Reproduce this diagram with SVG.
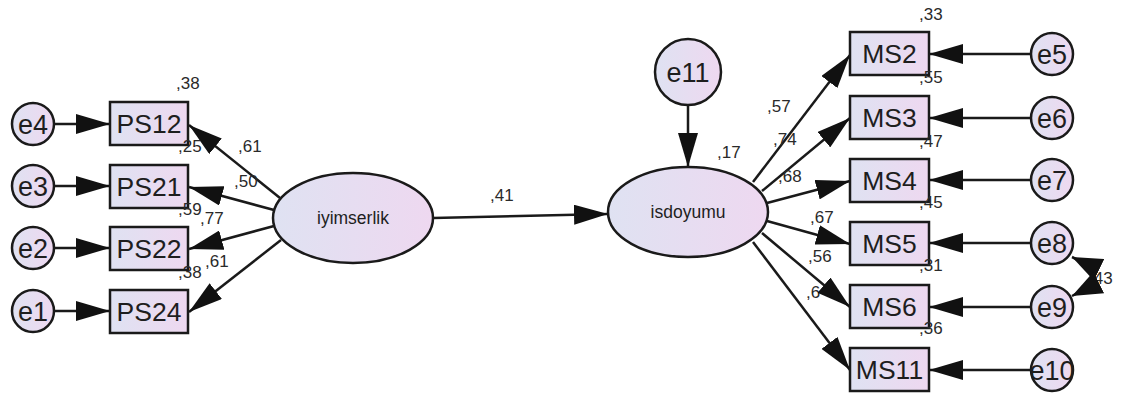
<svg xmlns="http://www.w3.org/2000/svg" width="1123" height="394" viewBox="0 0 1123 394">
<style>
.nd{stroke:#1a1a1a;stroke-width:2.5}
.bx{fill:url(#g)}
.el{fill:url(#g)}
.t{font-family:"Liberation Sans",Arial,sans-serif;fill:#1e1e1e}
.big{font-size:26.5px;text-anchor:middle}
.ev{font-size:27px;text-anchor:middle}
.lv{font-size:17.5px;text-anchor:middle}
.lb{font-size:17px;fill:#2a2a2a}
.cn{stroke:#1a1a1a;stroke-width:2.5;fill:none}
</style>
<defs>
<linearGradient id="g" x1="0" y1="0" x2="1" y2="0">
<stop offset="0" stop-color="#dfe2f2"/>
<stop offset="1" stop-color="#eed8f0"/>
</linearGradient>
<marker id="ah" markerUnits="userSpaceOnUse" markerWidth="34" markerHeight="20" refX="34" refY="10" orient="auto">
<path d="M0,0 L34,10 L0,20 z" fill="#111"/>
</marker>
<marker id="ah2" markerUnits="userSpaceOnUse" markerWidth="30" markerHeight="24" refX="30" refY="12" orient="auto-start-reverse">
<path d="M0,0 L30,12 L0,24 z" fill="#111"/>
</marker>
</defs>
<rect width="1123" height="394" fill="#fff"/>

<g id="labels-under">
<text class="t lb" x="806" y="298">,6</text>
<text class="t lb" x="1089" y="284">,43</text>
</g>

<g id="connectors">
<line class="cn" x1="54" y1="124" x2="110" y2="124" marker-end="url(#ah)"/>
<line class="cn" x1="54" y1="186" x2="110" y2="186" marker-end="url(#ah)"/>
<line class="cn" x1="54" y1="248" x2="110" y2="248" marker-end="url(#ah)"/>
<line class="cn" x1="54" y1="311" x2="110" y2="311" marker-end="url(#ah)"/>
<line class="cn" x1="280" y1="198" x2="189" y2="125" marker-end="url(#ah)"/>
<line class="cn" x1="274" y1="210" x2="189" y2="187" marker-end="url(#ah)"/>
<line class="cn" x1="274" y1="226" x2="189" y2="249" marker-end="url(#ah)"/>
<line class="cn" x1="281" y1="240" x2="189" y2="312" marker-end="url(#ah)"/>
<line class="cn" x1="433" y1="218" x2="608" y2="214" marker-end="url(#ah)"/>
<line class="cn" x1="688" y1="105" x2="688" y2="167" marker-end="url(#ah)"/>
<line class="cn" x1="753" y1="182" x2="850" y2="55" marker-end="url(#ah)"/>
<line class="cn" x1="762" y1="191" x2="850" y2="118" marker-end="url(#ah)"/>
<line class="cn" x1="767" y1="203" x2="850" y2="181" marker-end="url(#ah)"/>
<line class="cn" x1="767" y1="221" x2="850" y2="244" marker-end="url(#ah)"/>
<line class="cn" x1="762" y1="233" x2="850" y2="307" marker-end="url(#ah)"/>
<line class="cn" x1="753" y1="242" x2="850" y2="370" marker-end="url(#ah)"/>
<line class="cn" x1="1031" y1="54" x2="929" y2="54" marker-end="url(#ah)"/>
<line class="cn" x1="1031" y1="118" x2="929" y2="118" marker-end="url(#ah)"/>
<line class="cn" x1="1031" y1="180" x2="929" y2="180" marker-end="url(#ah)"/>
<line class="cn" x1="1031" y1="243" x2="929" y2="243" marker-end="url(#ah)"/>
<line class="cn" x1="1031" y1="307" x2="929" y2="307" marker-end="url(#ah)"/>
<line class="cn" x1="1031" y1="370" x2="929" y2="370" marker-end="url(#ah)"/>
<path class="cn" d="M1072,257 Q1112,276 1072,296" marker-start="url(#ah2)" marker-end="url(#ah2)"/>
</g>

<g id="e4"><circle class="nd el" cx="33" cy="124" r="21"/><text class="t ev" x="33" y="133.5">e4</text></g>
<g id="e3"><circle class="nd el" cx="33" cy="186" r="21"/><text class="t ev" x="33" y="195.5">e3</text></g>
<g id="e2"><circle class="nd el" cx="33" cy="248" r="21"/><text class="t ev" x="33" y="257.5">e2</text></g>
<g id="e1"><circle class="nd el" cx="33" cy="311" r="21"/><text class="t ev" x="33" y="320.5">e1</text></g>

<g id="PS12"><rect class="nd bx" x="110" y="102" width="78" height="43"/><text class="t big" x="149" y="133">PS12</text></g>
<g id="PS21"><rect class="nd bx" x="110" y="165" width="78" height="43"/><text class="t big" x="149" y="196">PS21</text></g>
<g id="PS22"><rect class="nd bx" x="110" y="227" width="78" height="43"/><text class="t big" x="149" y="258">PS22</text></g>
<g id="PS24"><rect class="nd bx" x="110" y="290" width="78" height="43"/><text class="t big" x="149" y="321">PS24</text></g>

<g id="iyimserlik"><ellipse class="nd el" cx="353" cy="218" rx="80" ry="45"/><text class="t lv" x="353" y="224">iyimserlik</text></g>
<g id="isdoyumu"><ellipse class="nd el" cx="688" cy="212" rx="80" ry="45"/><text class="t lv" x="688" y="218">isdoyumu</text></g>
<g id="e11"><circle class="nd el" cx="688" cy="72" r="33"/><text class="t ev" x="688" y="82">e11</text></g>

<g id="MS2"><rect class="nd bx" x="850" y="32" width="79" height="43"/><text class="t big" x="889.5" y="63">MS2</text></g>
<g id="MS3"><rect class="nd bx" x="850" y="96" width="79" height="43"/><text class="t big" x="889.5" y="127">MS3</text></g>
<g id="MS4"><rect class="nd bx" x="850" y="159" width="79" height="43"/><text class="t big" x="889.5" y="190">MS4</text></g>
<g id="MS5"><rect class="nd bx" x="850" y="222" width="79" height="43"/><text class="t big" x="889.5" y="253">MS5</text></g>
<g id="MS6"><rect class="nd bx" x="850" y="285" width="79" height="43"/><text class="t big" x="889.5" y="316">MS6</text></g>
<g id="MS11"><rect class="nd bx" x="850" y="348" width="79" height="43"/><text class="t big" x="889.5" y="379">MS11</text></g>

<g id="e5"><circle class="nd el" cx="1052" cy="54" r="21"/><text class="t ev" x="1052" y="63.5">e5</text></g>
<g id="e6"><circle class="nd el" cx="1052" cy="118" r="21"/><text class="t ev" x="1052" y="127.5">e6</text></g>
<g id="e7"><circle class="nd el" cx="1052" cy="180" r="21"/><text class="t ev" x="1052" y="189.5">e7</text></g>
<g id="e8"><circle class="nd el" cx="1052" cy="243" r="21"/><text class="t ev" x="1052" y="252.5">e8</text></g>
<g id="e9"><circle class="nd el" cx="1052" cy="307" r="21"/><text class="t ev" x="1052" y="316.5">e9</text></g>
<g id="e10"><circle class="nd el" cx="1052" cy="370" r="21"/><text class="t ev" x="1052" y="379.5">e10</text></g>

<g id="labels">
<text class="t lb" x="176" y="89">,38</text>
<text class="t lb" x="178" y="152">,25</text>
<text class="t lb" x="238" y="152">,61</text>
<text class="t lb" x="234" y="187">,50</text>
<text class="t lb" x="178" y="215">,59</text>
<text class="t lb" x="200" y="224">,77</text>
<text class="t lb" x="205" y="267">,61</text>
<text class="t lb" x="178" y="278">,38</text>
<text class="t lb" x="490" y="201">,41</text>
<text class="t lb" x="717" y="158">,17</text>
<text class="t lb" x="767" y="112">,57</text>
<text class="t lb" x="773" y="145">,74</text>
<text class="t lb" x="778" y="182">,68</text>
<text class="t lb" x="810" y="223">,67</text>
<text class="t lb" x="808" y="262">,56</text>
<text class="t lb" x="919" y="20">,33</text>
<text class="t lb" x="919" y="83">,55</text>
<text class="t lb" x="919" y="147">,47</text>
<text class="t lb" x="919" y="208">,45</text>
<text class="t lb" x="919" y="271">,31</text>
<text class="t lb" x="919" y="334">,36</text>
</g>
</svg>
